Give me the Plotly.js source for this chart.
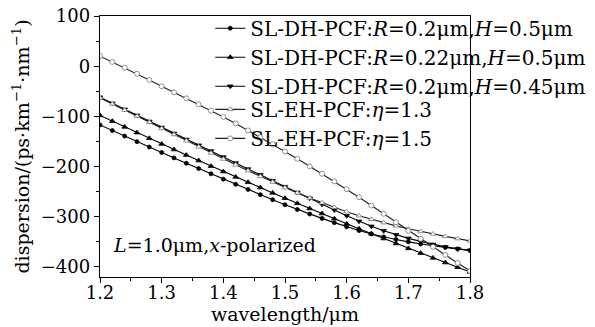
<!DOCTYPE html>
<html>
<head>
<meta charset="utf-8">
<script src="https://cdn.plot.ly/plotly-3.0.1.min.js"></script>
<style>html,body{margin:0;padding:0;background:#fff;}#chart{width:595px;height:327px;}</style>
</head>
<body>
<div id="chart"></div>
<script>
const wavelength = [1.20,1.22,1.24,1.26,1.28,1.30,1.32,1.34,1.36,1.38,1.40,1.42,1.44,1.46,1.48,1.50,1.52,1.54,1.56,1.58,1.60,1.62,1.64,1.66,1.68,1.70,1.72,1.74,1.76,1.78,1.80];

const dhR020H050 = [-117,-128.2,-139.3,-150.3,-161.2,-172,-182.7,-193.3,-203.9,-214.5,-225,-235.4,-245.7,-255.9,-266,-276,-285.5,-294.5,-303.2,-311.7,-320,-327.5,-334.2,-340.2,-345.4,-350,-354.2,-357.8,-361,-364,-367];
const dhR022H050 = [-98,-109.5,-121,-132.4,-143.7,-155,-166.1,-177.1,-188.1,-199.1,-210,-220.7,-231.3,-241.9,-252.5,-263,-273.3,-283.5,-293.7,-303.9,-314,-323.9,-333.7,-343.5,-353.3,-363,-372.5,-381.9,-391.3,-400.7,-410];
const dhR020H045 = [-62,-74,-86,-98,-110,-122,-134,-146,-157.5,-169,-181,-193,-205,-216.5,-228,-240,-251.5,-263,-275,-286.5,-298,-309,-319,-328,-336,-343,-349,-355,-360,-364,-367];
const ehEta13 = [-63,-75.2,-87.4,-99.6,-111.8,-124,-136.2,-148.4,-160.6,-172.8,-185,-196.6,-208.1,-219.5,-230.8,-242,-252.4,-262.4,-272,-281.2,-290,-297.9,-305,-311.8,-318.1,-324,-329.3,-334.3,-339,-343.6,-348];
const ehEta15 = [20,8.5,-3,-15,-27.5,-40,-52,-64,-76,-88.5,-101,-114,-128,-141.5,-155.5,-170,-184.5,-199.5,-214.5,-229.5,-245,-261,-277.5,-294,-311,-328,-344,-360,-376,-392,-408];

const seriesNames = [
  'SL-DH-PCF:<i>R</i>=0.2μm,<i>H</i>=0.5μm',
  'SL-DH-PCF:<i>R</i>=0.22μm,<i>H</i>=0.5μm',
  'SL-DH-PCF:<i>R</i>=0.2μm,<i>H</i>=0.45μm',
  'SL-EH-PCF:<i>η</i>=1.3',
  'SL-EH-PCF:<i>η</i>=1.5'
];
const xTickVals = [1.2,1.3,1.4,1.5,1.6,1.7,1.8];
const yTickVals = [-400,-300,-200,-100,0,100];
const yTickText = ['−400','−300','−200','−100','0','100'];

const FONT = 'DejaVu Serif, serif';

function tr(y, name, symbol, size, fill, lineCol, mCol, legend) {
  return {
    x: wavelength, y: y, name: name, type: 'scatter', mode: 'lines+markers',
    line: {color: lineCol, width: 1.1},
    marker: {symbol: symbol, size: size, color: fill, line: {color: mCol, width: 0.8}},
    legend: legend
  };
}

const data = [
  tr(dhR020H050, seriesNames[0], 'circle', 4, '#000', '#000', '#000', 'legend'),
  tr(dhR022H050, seriesNames[1], 'triangle-up', 5, '#000', '#000', '#000', 'legend'),
  tr(dhR020H045, seriesNames[2], 'triangle-down', 5, '#000', '#000', '#000', 'legend'),
  tr(ehEta13, seriesNames[3], 'triangle-up', 5, '#fff', '#222', '#777', 'legend2'),
  tr(ehEta15, seriesNames[4], 'circle', 5, '#fff', '#222', '#777', 'legend2')
];

const layout = {
  width: 595, height: 327,
  margin: {l: 100, r: 125, t: 16, b: 50, autoexpand: false},
  paper_bgcolor: '#fff', plot_bgcolor: '#fff',
  font: {family: FONT, size: 19, color: '#000'},
  showlegend: true,
  xaxis: {
    range: [1.2, 1.8], tickvals: xTickVals, ticktext: xTickVals.map(v => v.toFixed(1)),
    ticks: 'outside', ticklen: 5, tickwidth: 1, tickcolor: '#000',
    minor: {dtick: 0.05, ticks: 'outside', ticklen: 3, tickcolor: '#000', tick0: 1.2},
    showline: true, linecolor: '#000', linewidth: 1.2, mirror: true,
    showgrid: false, zeroline: false,
    tickfont: {family: FONT, size: 18},
    ticklabelstandoff: -6,
    title: {text: 'wavelength/μm', font: {family: FONT, size: 19}, standoff: 2}
  },
  yaxis: {
    range: [-420, 100], tickvals: yTickVals, ticktext: yTickText,
    ticks: 'outside', ticklen: 5, tickwidth: 1, tickcolor: '#000',
    minor: {dtick: 50, ticks: 'outside', ticklen: 3, tickcolor: '#000', tick0: 0},
    showline: true, linecolor: '#000', linewidth: 1.2, mirror: true,
    showgrid: false, zeroline: false,
    tickfont: {family: FONT, size: 18},
    title: {text: 'dispersion/(ps·km<sup>−1</sup>·nm<sup>−1</sup>)', font: {family: FONT, size: 19}, standoff: 6}
  },
  legend: {
    x: 0.298, y: 1.028, xanchor: 'left', yanchor: 'top',
    bgcolor: 'rgba(0,0,0,0)', borderwidth: 0,
    font: {family: FONT, size: 20}, itemwidth: 30, tracegroupgap: 0
  },
  legend2: {
    x: 0.298, y: 0.717, xanchor: 'left', yanchor: 'top',
    bgcolor: 'rgba(0,0,0,0)', borderwidth: 0,
    font: {family: FONT, size: 20}, itemwidth: 30, tracegroupgap: 0
  },
  annotations: [{
    xref: 'paper', yref: 'paper', x: 0.03, y: 0.123, xanchor: 'left', yanchor: 'middle',
    text: '<i>L</i>=1.0μm,<i>x</i>-polarized', showarrow: false,
    font: {family: FONT, size: 19, color: '#000'}
  }]
};

Plotly.newPlot('chart', data, layout, {displayModeBar: false, staticPlot: true});
</script>
</body>
</html>
